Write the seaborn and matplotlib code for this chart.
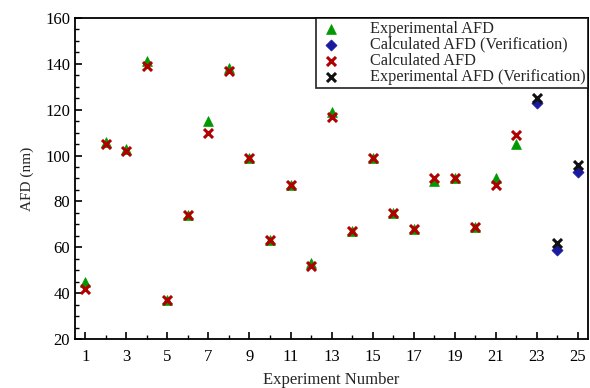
import pandas as pd
import numpy as np
import seaborn as sns
import matplotlib.pyplot as plt
from matplotlib.ticker import MultipleLocator

# experiments 1-22
exp_no = list(range(1, 23))
exp_afd = [45, 106, 103, 141, 37, 74, 115, 138, 99, 63, 87, 53, 119, 67, 99, 75, 68, 89, 90, 69, 90, 105]
calc_afd = [42, 105, 102, 139, 37, 74, 110, 137, 99, 63, 87, 52, 117, 67, 99, 75, 68, 90, 90, 69, 87, 109]
# verification runs 23-25
ver_no = [23, 24, 25]
calc_ver = [123, 59, 93]
exp_ver = [125, 62, 96]

labels = ["Experimental AFD", "Calculated AFD (Verification)",
          "Calculated AFD", "Experimental AFD (Verification)"]

df = pd.concat([
    pd.DataFrame({"Experiment": exp_no, "AFD": exp_afd, "series": labels[0]}),
    pd.DataFrame({"Experiment": ver_no, "AFD": calc_ver, "series": labels[1]}),
    pd.DataFrame({"Experiment": exp_no, "AFD": calc_afd, "series": labels[2]}),
    pd.DataFrame({"Experiment": ver_no, "AFD": exp_ver, "series": labels[3]}),
])

sns.set_theme(style="ticks")
plt.rcParams["font.family"] = ["Liberation Serif", "DejaVu Serif"]

fig = plt.figure(figsize=(5.9, 3.88), dpi=100)
ax = fig.add_axes([0.127, 0.126, 0.870, 0.828])

palette = {labels[0]: "#009900", labels[1]: "#1a1aa0",
           labels[2]: "#b00000", labels[3]: "#111111"}
markers = {labels[0]: "^", labels[1]: "D", labels[2]: "x", labels[3]: "x"}
sizes = {labels[0]: 50, labels[1]: 32, labels[2]: 42, labels[3]: 42}

for lab in labels:
    sub = df[df["series"] == lab]
    sns.scatterplot(data=sub, x="Experiment", y="AFD", color=palette[lab],
                    marker=markers[lab], s=sizes[lab],
                    linewidth=2.2 if markers[lab] == "x" else 0.5,
                    edgecolor=palette[lab], label=lab, ax=ax, zorder=3)

ax.set_xlim(0.5, 25.5)
ax.set_ylim(20, 160)
ax.set_xticks(range(1, 26, 2))
ax.xaxis.set_minor_locator(MultipleLocator(1))
ax.yaxis.set_major_locator(MultipleLocator(20))
ax.yaxis.set_minor_locator(MultipleLocator(5))
ax.tick_params(which="both", direction="in", top=False, right=False, colors="black")
ax.tick_params(which="major", length=5, width=1.2, labelsize=12)
ax.tick_params(axis="x", which="major", pad=7)
ax.tick_params(which="minor", length=3, width=1.0)
for sp in ax.spines.values():
    sp.set_linewidth(1.3)
    sp.set_color("black")

ax.set_xlabel("Experiment Number", fontsize=12, labelpad=5)
ax.set_ylabel("AFD (nm)", fontsize=11, labelpad=8)

leg = ax.legend(loc="upper right", bbox_to_anchor=(1.0, 1.0), borderaxespad=0,
                fontsize=11.7, frameon=True, fancybox=False, edgecolor="black",
                handletextpad=1.6, labelspacing=0.0, borderpad=0.18, handlelength=1.5)
leg.get_frame().set_linewidth(1.3)

plt.savefig("out.png", dpi=100)
